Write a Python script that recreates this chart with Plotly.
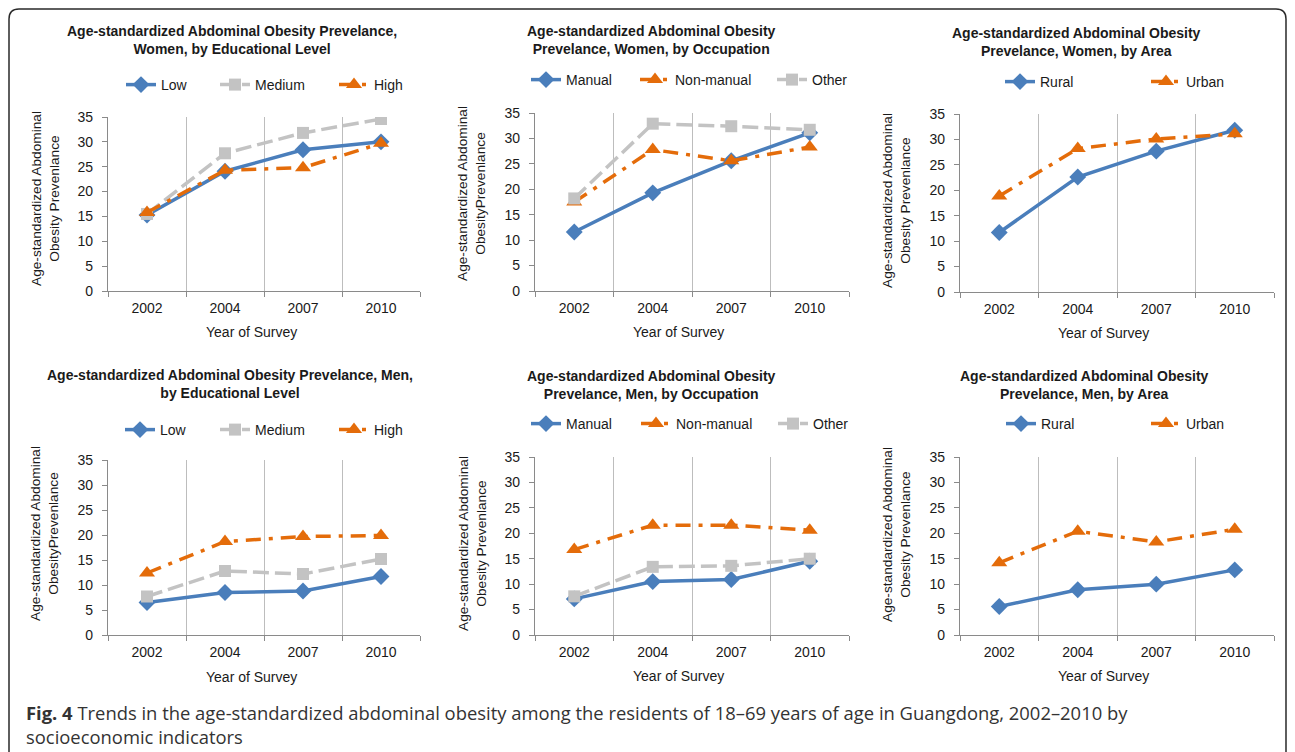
import plotly.graph_objects as go

W, H = 1295, 752

years = ["2002", "2004", "2007", "2010"]
y_ticks = [0, 5, 10, 15, 20, 25, 30, 35]

# Women, by educational level
w_edu_low = [15.3, 24.1, 28.4, 30.0]
w_edu_medium = [15.5, 27.7, 31.8, 34.6]
w_edu_high = [15.8, 24.3, 24.8, 29.7]
# Women, by occupation
w_occ_manual = [11.6, 19.3, 25.6, 31.1]
w_occ_nonmanual = [17.5, 27.8, 25.6, 28.3]
w_occ_other = [18.2, 32.9, 32.4, 31.7]
# Women, by area
w_area_rural = [11.7, 22.6, 27.7, 31.8]
w_area_urban = [18.9, 28.2, 30.1, 31.1]
# Men, by educational level
m_edu_low = [6.5, 8.5, 8.8, 11.7]
m_edu_medium = [7.7, 12.8, 12.2, 15.2]
m_edu_high = [12.4, 18.7, 19.7, 19.9]
# Men, by occupation
m_occ_manual = [7.1, 10.5, 10.9, 14.5]
m_occ_nonmanual = [16.8, 21.6, 21.6, 20.6]
m_occ_other = [7.6, 13.4, 13.6, 15.0]
# Men, by area
m_area_rural = [5.6, 8.9, 10.0, 12.8]
m_area_urban = [14.2, 20.4, 18.3, 20.8]

titles = [
    "Age-standardized Abdominal Obesity Prevelance,<br>Women, by Educational Level",
    "Age-standardized Abdominal Obesity<br>Prevelance, Women, by Occupation",
    "Age-standardized Abdominal Obesity<br>Prevelance, Women, by Area",
    "Age-standardized Abdominal Obesity Prevelance, Men,<br>by Educational Level",
    "Age-standardized Abdominal Obesity<br>Prevelance, Men, by Occupation",
    "Age-standardized Abdominal Obesity<br>Prevelance, Men, by Area",
]
y_titles = [
    "Age-standardized Abdominal<br>Obesity Prevenlance",
    "Age-standardized Abdominal<br>ObesityPrevenlance",
    "Age-standardized Abdominal<br>Obesity Prevenlance",
    "Age-standardized Abdominal<br>ObesityPrevenlance",
    "Age-standardized Abdominal<br>Obesity Prevenlance",
    "Age-standardized Abdominal<br>Obesity Prevenlance",
]
x_title = "Year of Survey"
caption = ("<b>Fig. 4</b> Trends in the age-standardized abdominal obesity among the residents "
           "of 18–69 years of age in Guangdong, 2002–2010 by<br>socioeconomic indicators")

BLUE, GREY, ORANGE = "#4A7EBB", "#C3C3C3", "#E46C0A"
STYLE = {
    "a": dict(color=BLUE, dash="solid", symbol="diamond", size=13),
    "b": dict(color=GREY, dash="16px,6px", symbol="square", size=12),
    "c": dict(color=ORANGE, dash="15px,8px,4px,8px", symbol="triangle-up", size=14),
}

# panel series: (name, values, style, legend text-start px, legend y px)
panels = [
    [("Low", w_edu_low, "a", 161, 85), ("Medium", w_edu_medium, "b", 255, 85), ("High", w_edu_high, "c", 374, 85)],
    [("Manual", w_occ_manual, "a", 566, 80), ("Non-manual", w_occ_nonmanual, "c", 675, 80), ("Other", w_occ_other, "b", 812, 80)],
    [("Rural", w_area_rural, "a", 1040, 82), ("Urban", w_area_urban, "c", 1186, 82)],
    [("Low", m_edu_low, "a", 160, 430), ("Medium", m_edu_medium, "b", 255, 430), ("High", m_edu_high, "c", 374, 430)],
    [("Manual", m_occ_manual, "a", 566, 424), ("Non-manual", m_occ_nonmanual, "c", 676, 424), ("Other", m_occ_other, "b", 813, 424)],
    [("Rural", m_area_rural, "a", 1041, 424), ("Urban", m_area_urban, "c", 1186, 424)],
]

# plot-area boxes in px: (left, right, top, bottom)
boxes = [
    (108, 420, 117, 291), (535, 849, 113, 291), (960, 1274, 114, 292),
    (108, 420, 460, 635), (535, 849, 457, 635), (960, 1274, 457, 635),
]
title_pos = [(232, 40), (651, 40), (1076, 42), (230, 384), (651, 385), (1084, 385)]
ytitle_pos = [(45, 199), (471, 193), (897, 201), (44, 534), (472, 544), (896, 535)]
xtitle_pos = [(251, 332), (678, 332), (1103, 333), (251, 677), (678, 676), (1103, 676)]


def fx(px):
    return px / W


def fy(py):
    return 1 - py / H


FONT = "Liberation Sans, Arial, Helvetica, sans-serif"
TXT = "#1a1a1a"
AX = "#8a8a8a"

fig = go.Figure()
layout = dict(
    template="none",
    width=W, height=H, margin=dict(l=0, r=0, t=0, b=0, pad=0, autoexpand=False),
    paper_bgcolor="white", plot_bgcolor="white", showlegend=True,
    font=dict(family=FONT, color=TXT, size=14),
    annotations=[], shapes=[],
)

leg_i = 0
for i, (series, box) in enumerate(zip(panels, boxes)):
    n = "" if i == 0 else str(i + 1)
    l, r, t, b = box
    layout["xaxis" + n] = dict(
        domain=[fx(l), fx(r)], anchor="y" + n, type="category",
        categoryorder="array", categoryarray=years, range=[-0.5, 3.5],
        tickson="boundaries", showgrid=True, gridcolor="#BDBDBD", gridwidth=1.3,
        showline=True, linecolor=AX, linewidth=1.3, ticks="outside", ticklen=5,
        tickcolor=AX, tickwidth=1.3, tickfont=dict(size=14, color=TXT), zeroline=False,
        fixedrange=True, automargin=False, ticklabelstandoff=4,
    )
    layout["yaxis" + n] = dict(
        domain=[fy(b), fy(t)], anchor="x" + n, range=[0, 35], tickvals=y_ticks,
        showgrid=False, showline=True, linecolor=AX, linewidth=1.3, ticks="outside",
        ticklen=5, tickcolor=AX, tickwidth=1.3, tickfont=dict(size=14, color=TXT),
        zeroline=False, ticklabelstandoff=6, fixedrange=True, automargin=False,
    )
    for name, vals, sk, tx, ty in series:
        leg_i += 1
        lname = "legend" if leg_i == 1 else "legend%d" % leg_i
        st = STYLE[sk]
        fig.add_trace(go.Scatter(
            x=years, y=vals, name=name, mode="lines+markers",
            xaxis="x" + n, yaxis="y" + n, legend=lname, showlegend=True,
            line=dict(color=st["color"], width=3.5, dash=st["dash"]),
            marker=dict(symbol=st["symbol"], size=st["size"], color=st["color"]),
        ))
        layout[lname] = dict(
            x=fx(tx - 40), y=fy(ty), xanchor="left", yanchor="middle",
            orientation="h", bgcolor="rgba(0,0,0,0)", borderwidth=0,
            font=dict(size=14, color=TXT, family=FONT), itemclick=False,
            itemdoubleclick=False, visible=True,
        )
    tx_, ty_ = title_pos[i]
    layout["annotations"].append(dict(
        text="<b>" + titles[i] + "</b>", x=fx(tx_), y=fy(ty_), xref="paper", yref="paper",
        showarrow=False, xanchor="center", yanchor="middle", align="center",
        font=dict(size=14, color=TXT, family=FONT),
    ))
    yx, yy = ytitle_pos[i]
    layout["annotations"].append(dict(
        text=y_titles[i], x=fx(yx), y=fy(yy), xref="paper", yref="paper",
        showarrow=False, xanchor="center", yanchor="middle", align="center",
        textangle=-90, font=dict(size=13.7, color=TXT, family=FONT),
    ))
    xx, xy = xtitle_pos[i]
    layout["annotations"].append(dict(
        text=x_title, x=fx(xx), y=fy(xy), xref="paper", yref="paper",
        showarrow=False, xanchor="center", yanchor="middle",
        font=dict(size=14, color=TXT, family=FONT),
    ))

layout["annotations"].append(dict(
    text=caption, x=fx(24), y=fy(724), xref="paper", yref="paper", showarrow=False,
    xanchor="left", yanchor="middle", align="left",
    font=dict(size=18.4, color="#333333", family="Open Sans, Noto Sans, sans-serif"),
))

# rounded outer frame
x0, x1, y0, yb, rr = 9, 1286, 9, 770, 10
path = ("M %f,%f L %f,%f Q %f,%f %f,%f L %f,%f Q %f,%f %f,%f L %f,%f" % (
    fx(x0), fy(yb), fx(x0), fy(y0 + rr), fx(x0), fy(y0), fx(x0 + rr), fy(y0),
    fx(x1 - rr), fy(y0), fx(x1), fy(y0), fx(x1), fy(y0 + rr), fx(x1), fy(yb)))
layout["shapes"].append(dict(type="path", path=path, xref="paper", yref="paper",
                             line=dict(color="#2a2a2a", width=1.5)))

fig.update_layout(**layout)
fig.write_html(
    "out.html",
    config={"displayModeBar": False, "staticPlot": False},
    post_script="document.body.style.margin='0px';document.body.style.overflow='hidden';",
)
